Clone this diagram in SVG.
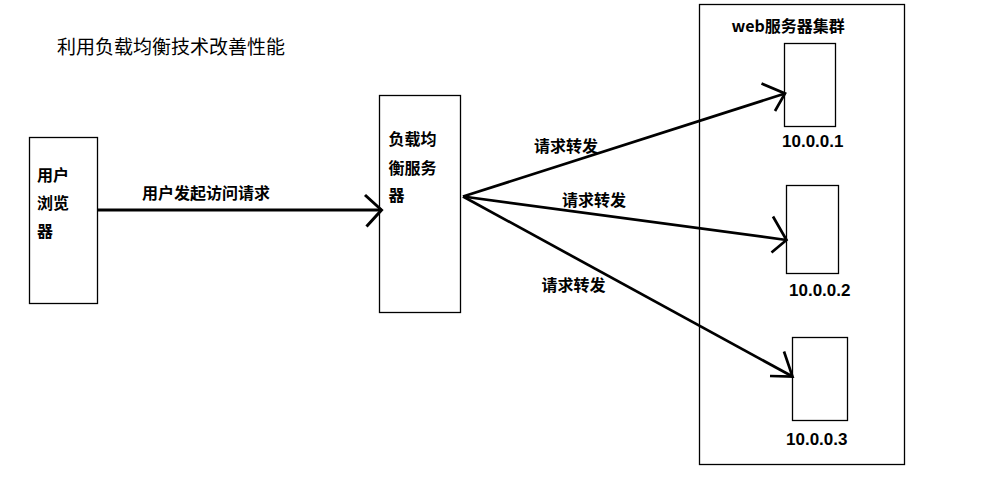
<svg xmlns="http://www.w3.org/2000/svg" width="990" height="481" viewBox="0 0 990 481">
<style>
.box{fill:#fff;stroke:#000;stroke-width:1.3}
.t{font-family:"Noto Sans CJK SC","Liberation Sans",sans-serif;fill:#000}
.b{font-weight:bold;font-size:16px}
.ip{font-family:"Liberation Sans","Noto Sans CJK SC",sans-serif;font-weight:bold;font-size:17px;fill:#000}
.ln{fill:none;stroke:#000;stroke-width:3;stroke-linecap:butt;stroke-linejoin:miter}
.fl{fill:none;stroke:#000;stroke-width:2.7;stroke-linecap:butt;stroke-linejoin:miter}
</style>
<rect width="990" height="481" fill="#fff"/>
<text class="t" x="57" y="53.5" font-size="19px">利用负载均衡技术改善性能</text>
<g id="browser">
<rect class="box" x="29.5" y="137.5" width="68" height="166"/>
<text class="t b" x="37" y="180.5">用户</text>
<text class="t b" x="37" y="208.5">浏览</text>
<text class="t b" x="37" y="236.5">器</text>
</g>
<g id="lb">
<rect class="box" x="379.5" y="95.5" width="81" height="217"/>
<text class="t b" x="388.5" y="145">负载均</text>
<text class="t b" x="388.5" y="174">衡服务</text>
<text class="t b" x="388.5" y="201">器</text>
</g>
<g id="cluster">
<rect class="box" x="699.5" y="4.5" width="205" height="460"/>
<text class="t b" x="731.5" y="32">web服务器集群</text>
</g>
<g id="s1">
<rect class="box" x="784.5" y="43.5" width="51" height="83"/>
<text class="ip" x="782" y="147">10.0.0.1</text>
</g>
<g id="s2">
<rect class="box" x="786.5" y="185.5" width="52" height="88"/>
<text class="ip" x="789" y="295.5">10.0.0.2</text>
</g>
<g id="s3">
<rect class="box" x="792.5" y="337.5" width="55" height="83"/>
<text class="ip" x="786" y="444.5">10.0.0.3</text>
</g>
<g id="connectors">
<line class="ln" x1="97.5" y1="210" x2="381.5" y2="210"/>
<polyline class="ln" points="365,195 381.5,210 366.5,226.5"/>
<text class="t b" x="142" y="198.5">用户发起访问请求</text>
<line class="fl" x1="463" y1="196.5" x2="785" y2="93.5"/>
<polyline class="fl" points="761.5,83.5 785,93.5 775,111"/>
<text class="t b" x="534" y="152">请求转发</text>
<line class="fl" x1="463" y1="196.5" x2="786.5" y2="240"/>
<polyline class="fl" points="773,216.5 786.5,240 771.5,252.5"/>
<text class="t b" x="562" y="206">请求转发</text>
<line class="fl" x1="463" y1="196.5" x2="792.5" y2="376.5"/>
<polyline class="fl" points="784,351.5 792.5,376.5 770,376"/>
<text class="t b" x="541.5" y="290.5">请求转发</text>
</g>
</svg>
